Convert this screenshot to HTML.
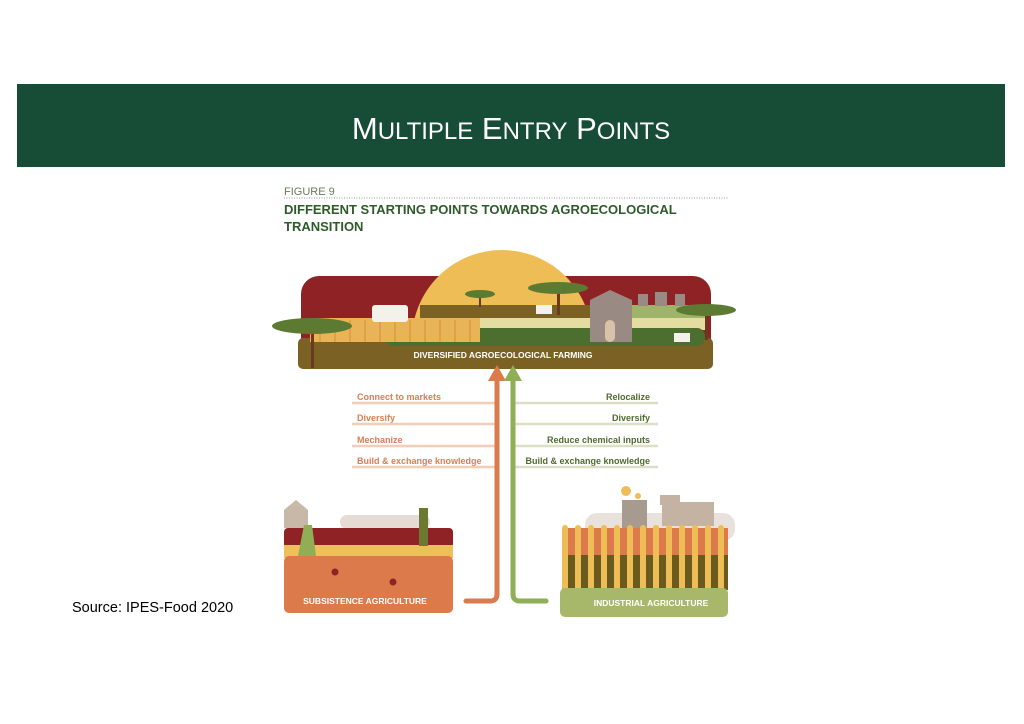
<!DOCTYPE html>
<html><head><meta charset="utf-8"><style>
html,body{margin:0;padding:0;background:#fff;width:1024px;height:724px;overflow:hidden}
svg{display:block}
text{font-family:"Liberation Sans",sans-serif}
</style></head><body>
<svg width="1024" height="724" viewBox="0 0 1024 724" xmlns="http://www.w3.org/2000/svg">
<defs><clipPath id="c"><rect x="0" y="0" width="1024" height="340"/></clipPath></defs>
<rect x="17" y="84" width="988" height="83" fill="#174c36"/>
<text x="511" y="139" text-anchor="middle" fill="#fff" font-size="31">M<tspan font-size="24">ULTIPLE</tspan> E<tspan font-size="24">NTRY</tspan> P<tspan font-size="24">OINTS</tspan></text>

<text x="284" y="195" fill="#6a7a5a" font-size="11">FIGURE 9</text>
<line x1="284" y1="198" x2="728" y2="198" stroke="#999" stroke-width="1" stroke-dasharray="1,1.5"/>
<text x="284" y="214" fill="#2f5a2a" font-size="13" font-weight="bold">DIFFERENT STARTING POINTS TOWARDS AGROECOLOGICAL</text>
<text x="284" y="231" fill="#2f5a2a" font-size="13" font-weight="bold">TRANSITION</text>

<!-- top scene -->
<rect x="301" y="276" width="410" height="80" rx="18" fill="#8f2225"/>
<circle cx="502" cy="340" r="90" fill="#eebd55" clip-path="url(#c)"/>
<rect x="298" y="338" width="415" height="31" rx="5" fill="#7b6224"/>
<rect x="420" y="305" width="190" height="14" fill="#7b6224"/>
<rect x="610" y="305" width="95" height="14" fill="#9fb46a"/>
<rect x="480" y="318" width="225" height="12" fill="#e4dca0"/>
<rect x="385" y="328" width="320" height="18" rx="8" fill="#4c6e2e"/>
<rect x="310" y="318" width="170" height="24" fill="#e8b455"/>
<g stroke="#d98a3c" stroke-width="1"><line x1="320" y1="320" x2="320" y2="342"/><line x1="335" y1="320" x2="335" y2="342"/><line x1="350" y1="320" x2="350" y2="342"/><line x1="365" y1="320" x2="365" y2="342"/><line x1="380" y1="320" x2="380" y2="342"/><line x1="395" y1="320" x2="395" y2="342"/><line x1="410" y1="320" x2="410" y2="342"/><line x1="425" y1="320" x2="425" y2="342"/><line x1="440" y1="320" x2="440" y2="342"/><line x1="455" y1="320" x2="455" y2="342"/><line x1="470" y1="320" x2="470" y2="342"/></g>
<rect x="372" y="305" width="36" height="17" rx="3" fill="#f4f0ea"/>
<path d="M590 342 V300 L610 290 L632 300 V342Z" fill="#9a8a84"/>
<rect x="605" y="320" width="10" height="22" rx="5" fill="#d9c3a8"/>
<rect x="638" y="294" width="10" height="12" fill="#9a8a84"/><rect x="655" y="292" width="12" height="14" fill="#9a8a84"/><rect x="675" y="294" width="10" height="12" fill="#9a8a84"/>
<rect x="536" y="305" width="16" height="9" fill="#f4f0ea"/>
<rect x="674" y="333" width="16" height="9" fill="#f4f0ea"/>
<g fill="#6b3a1e"><rect x="311" y="330" width="3" height="38"/><rect x="557" y="290" width="3" height="25"/><rect x="479" y="295" width="2" height="12"/><rect x="705" y="312" width="3" height="28"/></g>
<ellipse cx="312" cy="326" rx="40" ry="8" fill="#5d7a33"/>
<ellipse cx="558" cy="288" rx="30" ry="6" fill="#5d7a33"/>
<ellipse cx="480" cy="294" rx="15" ry="4" fill="#5d7a33"/>
<ellipse cx="706" cy="310" rx="30" ry="6" fill="#5d7a33"/>
<text x="503" y="358" text-anchor="middle" fill="#fff" font-size="8.5" font-weight="bold">DIVERSIFIED AGROECOLOGICAL FARMING</text>

<g font-size="9" font-weight="bold">
<g fill="#dd7d52"><text x="357" y="400">Connect to markets</text><text x="357" y="421">Diversify</text><text x="357" y="443">Mechanize</text><text x="357" y="464">Build &amp; exchange knowledge</text></g>
<g fill="#4f6b2e" text-anchor="end"><text x="650" y="400">Relocalize</text><text x="650" y="421">Diversify</text><text x="650" y="443">Reduce chemical inputs</text><text x="650" y="464">Build &amp; exchange knowledge</text></g>
</g>
<g stroke="#f3cdb8" stroke-width="2.5"><line x1="352" y1="403" x2="495" y2="403"/><line x1="352" y1="424" x2="495" y2="424"/><line x1="352" y1="446" x2="495" y2="446"/><line x1="352" y1="467" x2="495" y2="467"/></g>
<g stroke="#dbe0c5" stroke-width="2.5"><line x1="515" y1="403" x2="658" y2="403"/><line x1="515" y1="424" x2="658" y2="424"/><line x1="515" y1="446" x2="658" y2="446"/><line x1="515" y1="467" x2="658" y2="467"/></g>

<path d="M497 378 V594 Q497 601 490 601 H466" fill="none" stroke="#dc7a4b" stroke-width="5" stroke-linecap="round"/>
<polygon points="488,381 497,365 506,381" fill="#dc7a4b"/>
<path d="M513 378 V594 Q513 601 520 601 H546" fill="none" stroke="#8fae55" stroke-width="5" stroke-linecap="round"/>
<polygon points="504,381 513,365 522,381" fill="#8fae55"/>

<rect x="340" y="515" width="90" height="14" rx="7" fill="#e6dcd6"/>
<path d="M284 510 L296 500 L308 510 V528 H284Z" fill="#c8b8a8"/>
<rect x="284" y="528" width="169" height="20" rx="4" fill="#8f2225"/>
<rect x="284" y="545" width="169" height="13" fill="#eec05a"/>
<rect x="284" y="556" width="169" height="57" rx="5" fill="#dc7a4b"/>
<circle cx="335" cy="572" r="3.5" fill="#8f2225"/><circle cx="393" cy="582" r="3.5" fill="#8f2225"/>
<path d="M298 556 L304 525 L312 525 L316 556Z" fill="#8fae55"/>
<rect x="419" y="508" width="9" height="38" fill="#6b7a30"/>
<text x="365" y="604" text-anchor="middle" fill="#fff" font-size="8.5" font-weight="bold">SUBSISTENCE AGRICULTURE</text>

<rect x="585" y="513" width="150" height="28" rx="12" fill="#e9e2dc"/>
<rect x="622" y="500" width="25" height="28" fill="#a79a8f"/>
<rect x="660" y="495" width="20" height="10" fill="#c4b3a2"/>
<rect x="662" y="502" width="52" height="24" fill="#c4b3a2"/>
<circle cx="626" cy="491" r="5" fill="#eebd55"/><circle cx="638" cy="496" r="3" fill="#eebd55"/>
<rect x="562" y="528" width="166" height="62" fill="#dc7a4b"/>
<rect x="562" y="555" width="166" height="35" fill="#6b5a1e"/>
<g fill="#eebd55">
<rect x="562" y="525" width="6" height="66" rx="3"/><rect x="575" y="525" width="6" height="66" rx="3"/><rect x="588" y="525" width="6" height="66" rx="3"/><rect x="601" y="525" width="6" height="66" rx="3"/><rect x="614" y="525" width="6" height="66" rx="3"/><rect x="627" y="525" width="6" height="66" rx="3"/><rect x="640" y="525" width="6" height="66" rx="3"/><rect x="653" y="525" width="6" height="66" rx="3"/><rect x="666" y="525" width="6" height="66" rx="3"/><rect x="679" y="525" width="6" height="66" rx="3"/><rect x="692" y="525" width="6" height="66" rx="3"/><rect x="705" y="525" width="6" height="66" rx="3"/><rect x="718" y="525" width="6" height="66" rx="3"/>
</g>
<rect x="560" y="588" width="168" height="29" rx="5" fill="#a8b86a"/>
<text x="651" y="606" text-anchor="middle" fill="#fff" font-size="8.5" font-weight="bold">INDUSTRIAL AGRICULTURE</text>

<text x="72" y="612" fill="#000" font-size="14.5">Source: IPES-Food 2020</text>
</svg>
</body></html>
